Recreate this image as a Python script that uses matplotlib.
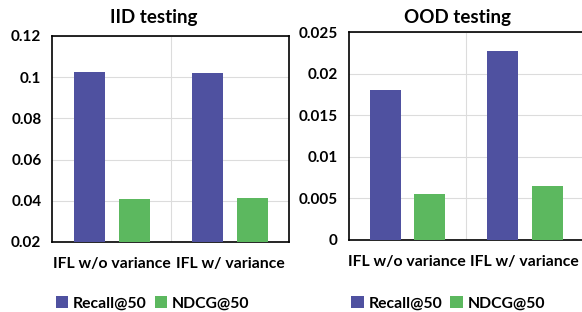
import numpy as np
import matplotlib.pyplot as plt

# data
methods = ['IFL w/o variance', 'IFL w/ variance']
iid_recall = [0.1024, 0.1019]
iid_ndcg = [0.0409, 0.0412]
ood_recall = [0.0181, 0.0228]
ood_ndcg = [0.0055, 0.0065]
iid_ticks = [0.02, 0.04, 0.06, 0.08, 0.1, 0.12]
ood_ticks = [0, 0.005, 0.01, 0.015, 0.02, 0.025]
iid_ticklabels = ['0.02', '0.04', '0.06', '0.08', '0.1', '0.12']
ood_ticklabels = ['0', '0.005', '0.01', '0.015', '0.02', '0.025']

plt.rcParams['font.family'] = ['Lato', 'DejaVu Sans']
plt.rcParams['font.weight'] = 'bold'

BLUE = '#4f51a0'
GREEN = '#5cb85f'

fig = plt.figure(figsize=(5.82, 3.12), dpi=100)
ax1 = fig.add_axes([0.0902, 0.2244, 0.4069, 0.6603])
ax2 = fig.add_axes([0.5991, 0.2308, 0.4034, 0.6657])

x = np.arange(len(methods))
w = 0.265
off = 0.19


def draw(ax, recall, ndcg, ticks, ticklabels, ylim):
    ax.bar(x - off, recall, w, color=BLUE, label='Recall@50', zorder=3)
    ax.bar(x + off, ndcg, w, color=GREEN, label='NDCG@50', zorder=3)
    ax.set_xlim(-0.5, 1.5)
    ax.set_ylim(*ylim)
    ax.set_yticks(ticks)
    ax.set_yticklabels(ticklabels, fontsize=11, fontweight='bold')
    ax.set_xticks(x)
    ax.set_xticklabels(methods, fontsize=11.3, fontweight='bold')
    ax.set_xticks([0.5], minor=True)
    ax.tick_params(axis='both', which='both', length=0)
    ax.tick_params(axis='x', pad=11)
    ax.tick_params(axis='y', pad=8)
    ax.grid(axis='y', color='#dcdcdc', linewidth=0.8, zorder=0)
    ax.grid(axis='x', which='minor', color='#dcdcdc', linewidth=0.8, zorder=0)
    for s in ax.spines.values():
        s.set_linewidth(1.2)
        s.set_color('black')


draw(ax1, iid_recall, iid_ndcg, iid_ticks, iid_ticklabels, (0.02, 0.12))
draw(ax2, ood_recall, ood_ndcg, ood_ticks, ood_ticklabels, (0, 0.025))

fig.text(153.5 / 582, 1 - 17 / 312, 'IID testing', ha='center', va='center',
         fontsize=13.5, fontweight='bold')
fig.text(457 / 582, 1 - 17 / 312, 'OOD testing', ha='center', va='center',
         fontsize=13.5, fontweight='bold')

for ax, cx in [(ax1, 152.5), (ax2, 448)]:
    ax.legend(loc='center', bbox_to_anchor=(cx / 582, 1 - 303 / 312),
              bbox_transform=fig.transFigure, ncol=2, frameon=False,
              handlelength=0.8, handleheight=0.8, handletextpad=0.3,
              columnspacing=0.5, borderaxespad=0,
              prop={'size': 11.3, 'weight': 'bold'})

fig.savefig('out.png', dpi=100)
